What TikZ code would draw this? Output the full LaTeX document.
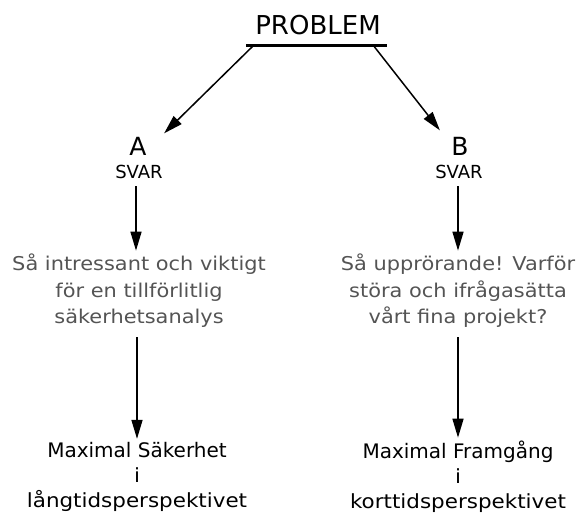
\documentclass[tikz,border=0pt]{standalone}
\usepackage{fontspec}
\setmainfont{DejaVu Sans}[FakeStretch=1.1]
\newfontfamily\smalfont{DejaVu Sans}
\usetikzlibrary{arrows.meta,positioning}
\definecolor{textgrau}{gray}{0.33}

\begin{document}
\begin{tikzpicture}[x=1pt, y=-1pt,
	pil/.style={-{Triangle[length=19pt, width=11pt]}, line width=1.5pt},
	fraga/.style={text=textgrau, align=center, font=\fontsize{19}{26.5}\selectfont},
	slut/.style={align=center, font=\fontsize{19.5}{25}\selectfont}]
\useasboundingbox (0,0) rectangle (576,515);

	%% Problem
	\node (problem) at (318,25) {\smalfont\fontsize{26}{26}\selectfont PROBLEM};
	\coordinate (barL) at (246,45);
	\coordinate (barR) at (387,45);
	\draw[line width=3pt] (barL) -- (barR);

	%% Svar A och B
	\node (a) at (138,146) {\smalfont\fontsize{25}{25}\selectfont A};
	\node (svarA) at (139,172) {\smalfont\fontsize{18}{18}\selectfont SVAR};
	\node (b) at (460,146) {\smalfont\fontsize{25}{25}\selectfont B};
	\node (svarB) at (459,172) {\smalfont\fontsize{18}{18}\selectfont SVAR};

	\draw[pil] ([xshift=8pt]barL) -- ([xshift=14pt]a.north east);
	\draw[pil] ([xshift=-14pt]barR) -- ([xshift=-8pt, yshift=3pt]b.north west);

	%%%%%%%%%%%%%%%%

	%% Reaktion
	\node[fraga] (fragaA) at (139,291) {Så intressant och viktigt\\för en tillförlitlig\\säkerhetsanalys};
	\node[fraga] (fragaB) at (458,291) {Så upprörande! Varför\\störa och ifrågasätta\\vårt fina projekt?};

	\draw[pil] ([xshift=-3pt, yshift=-4pt]svarA.south) -- ([xshift=-3pt]svarA.south |- fragaA.north);
	\draw[pil] ([xshift=-1pt, yshift=-4pt]svarB.south) -- ([xshift=-1pt]svarB.south |- fragaB.north);

	%% Resultat
	\node[slut] (maxA) at (137,477) {{\smalfont\fontsize{20}{25}\selectfont Maximal Säkerhet}\\i\\långtidsperspektivet};
	\node[slut] (maxB) at (458,477) {{\smalfont\fontsize{20}{25}\selectfont Maximal Framgång}\\i\\korttidsperspektivet};

	\draw[pil] ([xshift=-2pt, yshift=-6pt]fragaA.south) -- ([xshift=-2pt]fragaA.south |- maxA.north);
	\draw[pil] ([xshift=0pt, yshift=-6pt]fragaB.south) -- (fragaB.south |- maxB.north);

%\draw (current bounding box.south west) rectangle (current bounding box.north east);
\end{tikzpicture}
\end{document}
